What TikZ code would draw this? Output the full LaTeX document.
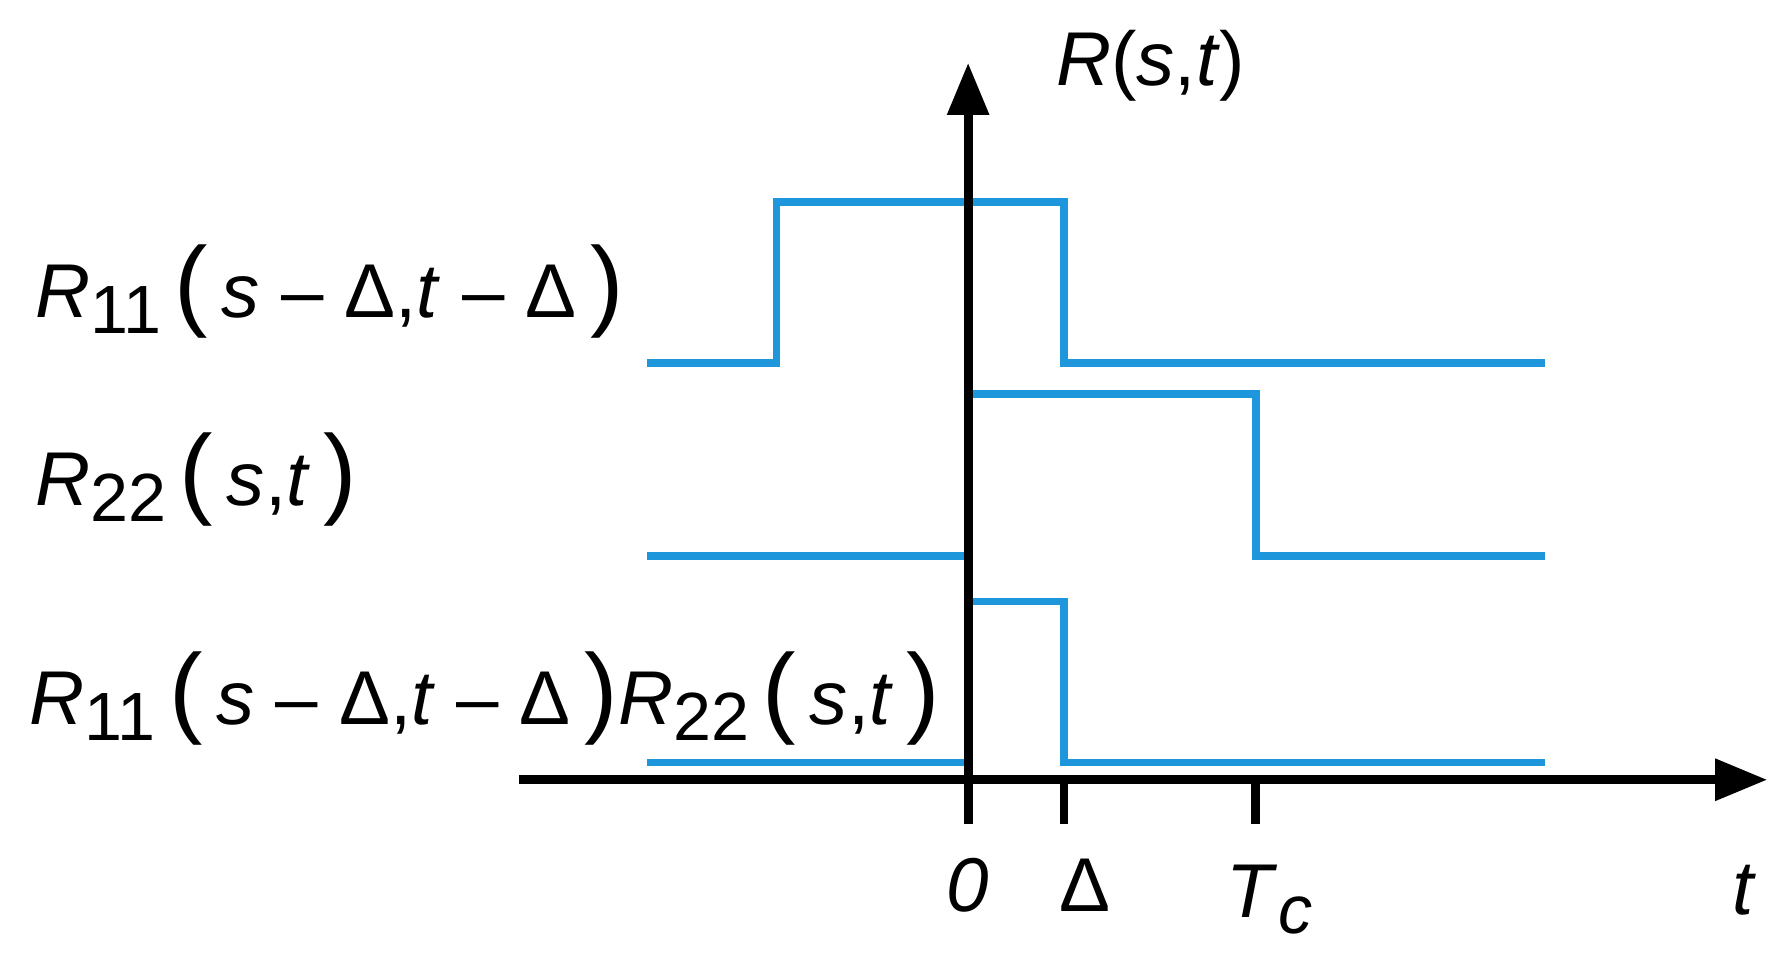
\documentclass[tikz,border=0pt]{standalone}
\usepackage{fontspec}
\setmainfont{Liberation Sans}
\usetikzlibrary{arrows.meta}
\definecolor{sig}{RGB}{30,150,220}
\newcommand{\sbx}[1]{\raisebox{-0.4ex}{\fontsize{17}{18}\selectfont #1}}
\newcommand{\bp}[1]{{\fontsize{25}{25}\selectfont #1}}
\newcommand{\ms}{\hspace{0.18em}}
\begin{document}
\begin{tikzpicture}[x=0.01cm,y=-0.01cm,
 sigl/.style={sig,line width=1.9pt},
 ax/.style={black,line width=2.2pt},
 lbl/.style={font=\fontsize{19}{21}\selectfont,inner sep=0pt}]
\useasboundingbox (0,0) rectangle (1560,858);
\coordinate (yb) at (848,722); \coordinate (yt) at (848,55);
\coordinate (xl) at (455,683); \coordinate (xr) at (1548,683);
\draw[ax,-{Triangle[length=13pt,width=10pt]}] (xl) -- (xr);
\foreach \x in {932,1100}{\draw[ax] (\x,683) -- (\x,722);}
\draw[sigl] (567,318) -- (680,318) -- (680,177) -- (932,177) -- (932,318) -- (1353,318);
\draw[sigl] (567,487) -- (848,487) -- (848,345) -- (1100,345) -- (1100,487) -- (1353,487);
\draw[sigl] (567,668) -- (848,668) -- (848,527) -- (932,527) -- (932,668) -- (1353,668);
\draw[ax,-{Triangle[length=13pt,width=10pt]}] (yb) -- (yt);
\node[lbl] (l0) at (848,775) {\textit{0}};
\node[lbl] (ld) at (950,775) {Δ};
\node[lbl] (ltc) at (1112,788) {\textit{T}\sbx{\textit{c}}};
\node[lbl] (lt) at (1528,780) {\textit{t}};
\node[lbl] (lr) at (1008,58) {\textit{R}(\textit{s},\textit{t})};
\node[lbl,anchor=west] (a) at (30,255) {\textit{R}\sbx{11}\ms\bp{(}\ms\textit{s} – Δ,\textit{t} – Δ\ms\bp{)}};
\node[lbl,anchor=west] (b) at (30,420) {\textit{R}\sbx{22}\ms\bp{(}\ms\textit{s},\textit{t}\ms\bp{)}};
\node[lbl,anchor=west] (c) at (25,612) {\textit{R}\sbx{11}\ms\bp{(}\ms\textit{s} – Δ,\textit{t} – Δ\ms\bp{)}\textit{R}\sbx{22}\ms\bp{(}\ms\textit{s},\textit{t}\ms\bp{)}};
\end{tikzpicture}
\end{document}
